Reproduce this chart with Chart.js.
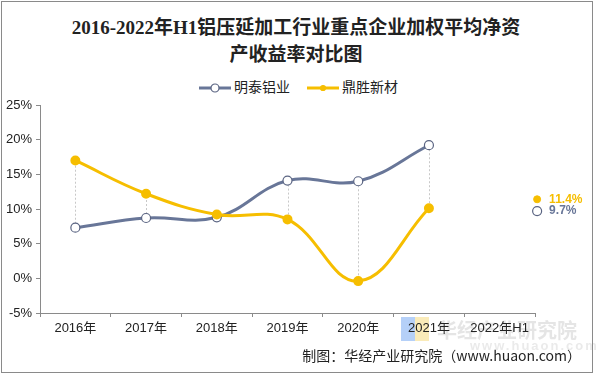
<!DOCTYPE html>
<html>
<head>
<meta charset="utf-8">
<script src="https://cdn.jsdelivr.net/npm/chart.js@4"></script>
<style>
  body { margin: 0; background: #fff; }
  #wrap { position: relative; width: 596px; height: 376px; overflow: hidden; font-family: "Liberation Sans", "Noto Sans CJK SC", sans-serif; }
  #frame { position: absolute; left: 1px; top: 1px; width: 590px; height: 370px; border: 1px solid #8a8a8a; }
  #title { position: absolute; left: 0; top: 14px; width: 592px; text-align: center; font-family: "Liberation Serif", "Noto Sans CJK SC", serif; font-weight: bold; font-size: 19px; line-height: 27px; color: #222; }
  #legend { position: absolute; left: 0; top: 76px; width: 596px; text-align: center; font-size: 14px; color: #222; font-family: "Noto Sans CJK SC", sans-serif; }
  #legend span.item { display: inline-block; margin: 0 8px; }
  #legend canvas { vertical-align: middle; margin-right: 2px; }
  #chart { position: absolute; left: 0; top: 0; }
  #mark { position: absolute; left: 437px; top: 315px; font-size: 20px; font-weight: bold; color: rgba(150,150,150,0.25); font-family: "Noto Sans CJK SC", sans-serif; }
  #mark2 { position: absolute; left: 470px; top: 338px; font-size: 13px; font-weight: bold; color: rgba(150,150,150,0.2); letter-spacing: 2px; }
  #logo1 { position: absolute; left: 401px; top: 317px; width: 14px; height: 24px; background: rgba(90,150,240,0.45); }
  #logo2 { position: absolute; left: 415px; top: 317px; width: 14px; height: 24px; background: rgba(245,210,100,0.45); }
  #source { position: absolute; right: 15px; top: 345px; font-size: 14px; color: #222; font-family: "Noto Sans CJK SC", sans-serif; }
</style>
</head>
<body>
<div id="wrap">
  <div id="frame"></div>
  <div id="title">2016-2022年H1铝压延加工行业重点企业加权平均净资<br>产收益率对比图</div>
  <div id="legend"></div>
  <div id="logo1"></div><div id="logo2"></div>
  <div id="mark">华经产业研究院</div>
  <div id="mark2">www.huaon.com</div>
  <canvas id="chart" width="596" height="376"></canvas>
  <div id="source">制图：华经产业研究院（www.huaon.com）</div>
</div>
<script>
const categories = ["2016年", "2017年", "2018年", "2019年", "2020年", "2021年", "2022年H1"];
const seriesNames = ["明泰铝业", "鼎胜新材"];
const mingtai = [7.3, 8.7, 8.8, 14.1, 14.0, 19.2];
const dingsheng = [17.0, 12.2, 9.2, 8.5, -0.4, 10.1];
const h1Values = [9.7, 11.4];   // 2022H1, shown off the line
const yTicks = [-5, 0, 5, 10, 15, 20, 25];

const grayBlue = "rgb(104,118,152)";
const yellow = "rgb(246,190,0)";

function toPoints(arr) {
  return arr.map((v, i) => ({ x: i, y: v }));
}

// legend built as plain html with small line+marker swatches
function makeSwatch(color, hollow) {
  const c = document.createElement("canvas");
  c.width = 34; c.height = 12;
  const g = c.getContext("2d");
  g.strokeStyle = color; g.lineWidth = 3;
  g.beginPath(); g.moveTo(1, 6); g.lineTo(33, 6); g.stroke();
  g.beginPath(); g.arc(17, 6, hollow ? 4 : 2.5, 0, Math.PI * 2);
  g.fillStyle = hollow ? "#fff" : color; g.fill();
  g.lineWidth = 1.2; g.strokeStyle = hollow ? "rgb(90,100,130)" : color; g.stroke();
  return c;
}
const legend = document.getElementById("legend");
[[seriesNames[0], grayBlue, true], [seriesNames[1], yellow, false]].forEach(function (s) {
  const item = document.createElement("span");
  item.className = "item";
  item.appendChild(makeSwatch(s[1], s[2]));
  item.appendChild(document.createTextNode(s[0]));
  legend.appendChild(item);
});

const dropLines = {
  id: "dropLines",
  beforeDatasetsDraw(chart) {
    const a = chart.getDatasetMeta(0).data;
    const b = chart.getDatasetMeta(1).data;
    const ctx = chart.ctx;
    ctx.save();
    ctx.strokeStyle = "#c8c8c8";
    ctx.lineWidth = 1;
    ctx.setLineDash([2, 2]);
    for (let i = 0; i < a.length; i++) {
      ctx.beginPath();
      ctx.moveTo(Math.round(a[i].x) + 0.5, a[i].y);
      ctx.lineTo(Math.round(b[i].x) + 0.5, b[i].y);
      ctx.stroke();
    }
    ctx.restore();
  }
};

const h1Labels = {
  id: "h1Labels",
  afterDatasetsDraw(chart) {
    const ctx = chart.ctx;
    ctx.save();
    ctx.font = "bold 12px 'Liberation Sans', sans-serif";
    ctx.textBaseline = "middle";
    [[2, grayBlue], [3, yellow]].forEach(function (d) {
      const p = chart.getDatasetMeta(d[0]).data[0];
      const v = chart.data.datasets[d[0]].data[0].y;
      ctx.fillStyle = d[1];
      ctx.fillText(v.toFixed(1) + "%", p.x + 12, p.y);
    });
    ctx.restore();
  }
};

new Chart(document.getElementById("chart"), {
  type: "line",
  data: {
    datasets: [
      {
        label: seriesNames[0],
        data: toPoints(mingtai),
        borderColor: grayBlue,
        borderWidth: 3,
        tension: 0.4,
        pointRadius: 4.5,
        pointBackgroundColor: "#fff",
        pointBorderColor: "rgb(90,100,130)",
        pointBorderWidth: 1.2,
        order: 2
      },
      {
        label: seriesNames[1],
        data: toPoints(dingsheng),
        borderColor: yellow,
        borderWidth: 3,
        tension: 0.4,
        pointRadius: 3.5,
        pointBackgroundColor: yellow,
        pointBorderColor: yellow,
        order: 1
      },
      {
        label: seriesNames[0] + " H1",
        data: [{ x: 6.53, y: h1Values[0] }],
        showLine: false,
        pointRadius: 4.5,
        pointBackgroundColor: "#fff",
        pointBorderColor: "rgb(90,100,130)",
        pointBorderWidth: 1.2,
        clip: false
      },
      {
        label: seriesNames[1] + " H1",
        data: [{ x: 6.53, y: h1Values[1] }],
        showLine: false,
        pointRadius: 3.5,
        pointBackgroundColor: yellow,
        pointBorderColor: yellow,
        clip: false
      }
    ]
  },
  options: {
    responsive: false,
    animation: false,
    layout: { padding: { left: 0, top: 105, right: 61, bottom: 33 } },
    plugins: { legend: { display: false }, title: { display: false }, tooltip: { enabled: false } },
    scales: {
      x: {
        type: "linear",
        min: -0.5,
        max: 6.5,
        afterBuildTicks: function (axis) {
          axis.ticks = categories.map((c, i) => ({ value: i }));
        },
        afterFit: function (axis) { axis.height = 30; },
        ticks: {
          callback: function (v) { return categories[v]; },
          color: "#222",
          font: { size: 13, family: "'Liberation Sans', 'Noto Sans CJK SC', sans-serif" },
          padding: 4,
          maxRotation: 0
        },
        grid: { offset: true, drawOnChartArea: false, drawTicks: true, tickLength: 4, color: "#8a8a8a" },
        border: { color: "#8a8a8a", width: 1 }
      },
      y: {
        min: -5,
        max: 25,
        afterBuildTicks: function (axis) {
          axis.ticks = yTicks.map(v => ({ value: v }));
        },
        afterFit: function (axis) { axis.width = 40; },
        ticks: {
          callback: function (v) { return v + "%"; },
          color: "#222",
          font: { size: 13, family: "'Liberation Sans', sans-serif" },
          padding: 4
        },
        grid: { drawOnChartArea: false, drawTicks: true, tickLength: 4, color: "#8a8a8a" },
        border: { color: "#8a8a8a", width: 1 }
      }
    }
  },
  plugins: [dropLines, h1Labels]
});
</script>
</body>
</html>
